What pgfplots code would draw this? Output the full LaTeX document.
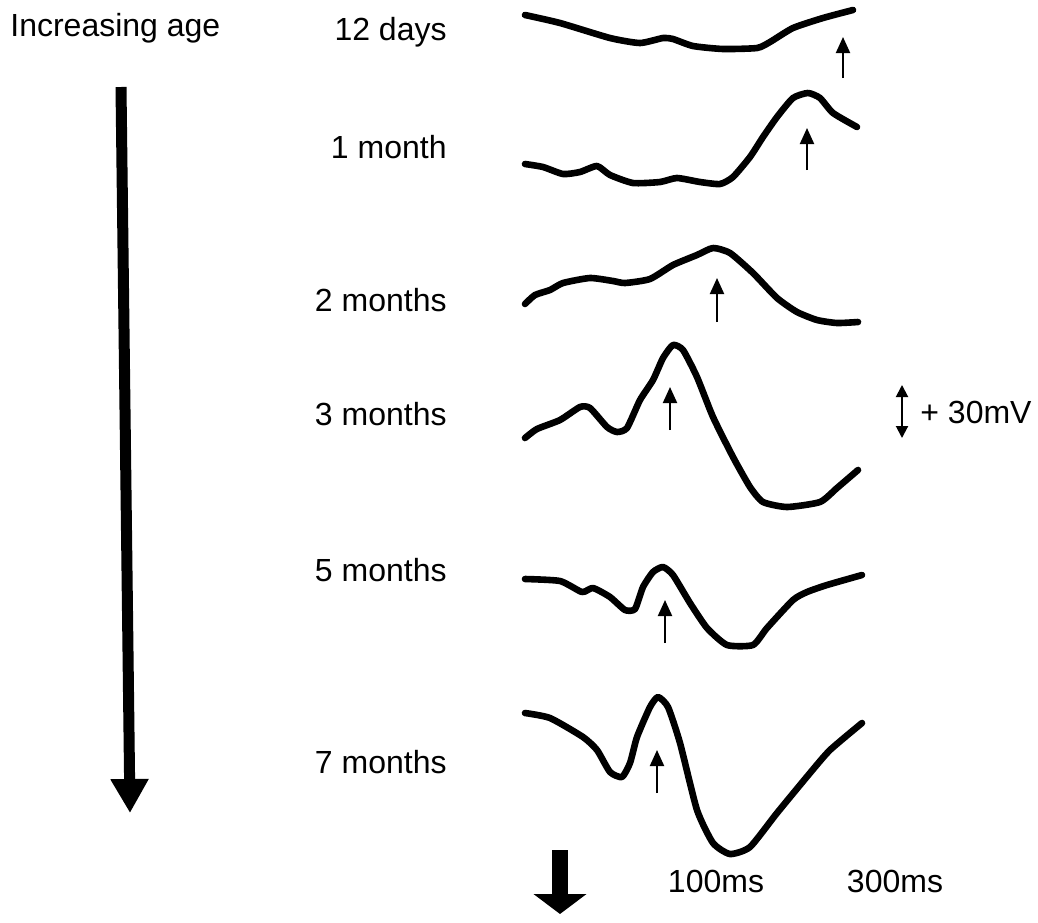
\documentclass[border=0pt]{standalone}
\usepackage{pgfplots}
\pgfplotsset{compat=1.18}
\usepackage{fontspec}
\setmainfont{Liberation Sans}
\usetikzlibrary{arrows.meta}
\tikzset{lbl/.style={font=\fontsize{16}{19}\selectfont, inner sep=0pt}}
\begin{document}
\begin{tikzpicture}
\begin{axis}[
  scale only axis, width=519pt, height=458pt,
  xmin=0, xmax=1038, ymin=0, ymax=916, y dir=reverse,
  hide axis, clip=false,
  trace/.style={black, line width=3.3pt, smooth, tension=0.35, line cap=round, line join=round},
  pk/.style={black, line width=1pt, -{Triangle[width=7pt,length=8pt]}},
]
\addplot[draw=none] coordinates {(0,0) (1038,916)};
% 12 days
\addplot[trace] coordinates {(525,15) (560,23) (610,38) (640,43) (663,38) (673,39) (693,46) (723,49) (757,48) (770,42) (793,28) (823,18) (853,10)};
\addplot[pk] coordinates {(843,78) (843,37)};
% 1 month
\addplot[trace] coordinates {(525,164) (543,167) (563,174) (580,172) (597,166) (610,175) (633,183) (660,182) (677,178) (700,182) (720,184) (733,177) (750,157) (763,137) (777,117) (793,98) (808,93) (820,98) (833,113) (857,127)};
\addplot[pk] coordinates {(807,170) (807,128)};
% 2 months
\addplot[trace] coordinates {(525,304) (535,295) (550,290) (563,283) (590,278) (613,281) (625,283) (650,279) (673,265) (697,255) (713,248) (730,253) (753,273) (777,298) (797,312) (817,320) (837,323) (858,322)};
\addplot[pk] coordinates {(717,322) (717,278)};
% 3 months
\addplot[trace] coordinates {(525,438) (537,429) (560,420) (580,407) (590,408) (607,427) (617,432) (627,428) (640,400) (653,380) (663,358) (673,345) (683,350) (697,377) (713,417) (733,457) (750,487) (763,502) (787,507) (820,502) (837,488) (858,470)};
\addplot[pk] coordinates {(670,430) (670,387)};
% 5 months
\addplot[trace] coordinates {(525,579) (560,581) (582,592) (593,588) (610,597) (625,610) (635,609) (643,587) (653,572) (663,567) (673,575) (690,603) (707,628) (727,645) (753,645) (767,628) (793,600) (807,592) (827,585) (862,575)};
\addplot[pk] coordinates {(665,643) (665,600)};
% 7 months
\addplot[trace] coordinates {(525,713) (550,718) (583,737) (597,750) (610,772) (622,777) (630,763) (637,737) (650,707) (658,697) (668,707) (680,743) (697,810) (713,843) (730,854) (750,847) (777,813) (810,773) (830,750) (862,723)};
\addplot[pk] coordinates {(657,793) (657,750)};
% big age arrow
\addplot[black, line width=5.5pt, -{Triangle[width=18pt,length=17pt]}] coordinates {(121,87) (130,813)};
% bottom block arrow
\addplot[black, line width=8pt, -{Triangle[width=26pt,length=10pt]}] coordinates {(560,850) (560,914)};
% scale bar
\addplot[black, line width=1pt, {Triangle[width=6pt,length=6pt]}-{Triangle[width=6pt,length=6pt]}] coordinates {(902,385) (902,438)};
\node[lbl, anchor=west] at (axis cs:920,412) {+ 30mV};
\node[lbl, anchor=west] at (axis cs:10,28) {Increasing age};
\node[lbl, anchor=east] at (axis cs:447,32) {12 days};
\node[lbl, anchor=east] at (axis cs:447,147) {1 month};
\node[lbl, anchor=east] at (axis cs:447,300) {2 months};
\node[lbl, anchor=east] at (axis cs:447,414) {3 months};
\node[lbl, anchor=east] at (axis cs:447,570) {5 months};
\node[lbl, anchor=east] at (axis cs:447,762) {7 months};
\node[lbl] at (axis cs:716,881) {100ms};
\node[lbl] at (axis cs:895,881) {300ms};
\end{axis}
\end{tikzpicture}
\end{document}
